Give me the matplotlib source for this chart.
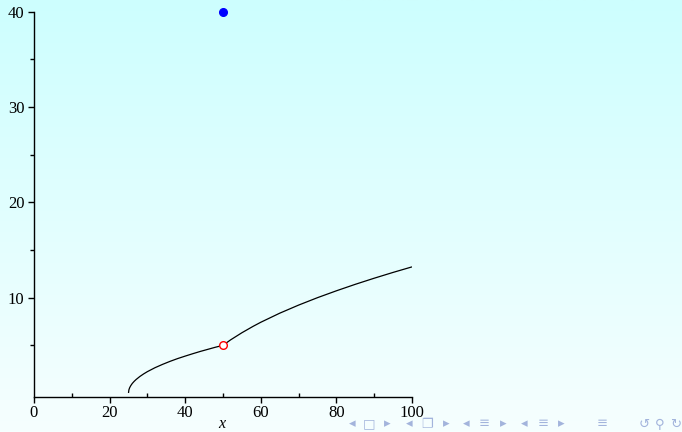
import numpy as np
import matplotlib
matplotlib.use("Agg")
import matplotlib.pyplot as plt
from matplotlib.colors import LinearSegmentedColormap

# data
x_left = [25, 25.1, 25.3, 25.6, 26, 26.5, 27, 28, 29, 30, 32, 34, 36, 38, 40, 42, 44, 46, 48, 50]
y_left = [0, 0.32, 0.55, 0.77, 1.0, 1.22, 1.41, 1.73, 2.0, 2.24, 2.65, 3.0, 3.32, 3.61, 3.87, 4.12, 4.36, 4.58, 4.80, 5.0]
x_right = [50, 52, 55, 58, 60, 65, 70, 75, 80, 85, 90, 95, 100]
y_right = [5.0, 5.57, 6.32, 7.0, 7.42, 8.37, 9.22, 10.0, 10.72, 11.40, 12.04, 12.65, 13.23]
open_pt = (50, 5)
filled_pt = (50, 40)
xticks = [0, 20, 40, 60, 80, 100]
xminor = [10, 30, 50, 70, 90]
yticks = [10, 20, 30, 40]
yminor = [5, 15, 25, 35]

W, H = 682, 432
fig = plt.figure(figsize=(W / 100, H / 100), dpi=100)

# background gradient
bg = fig.add_axes([0, 0, 1, 1])
cmap = LinearSegmentedColormap.from_list("bg", ["#cdfefe", "#f6ffff"])
grad = np.linspace(0, 1, 256).reshape(-1, 1)
bg.imshow(grad, aspect="auto", cmap=cmap, extent=[0, 1, 0, 1], origin="upper")
bg.set_axis_off()

left, right = 34 / W, 412 / W
bottom, top = (H - 396.7) / H, (H - 11.7) / H
ax = fig.add_axes([left, bottom, right - left, top - bottom])
ax.patch.set_alpha(0)
ax.set_xlim(0, 100)
ax.set_ylim(-0.39, 40)

ax.plot(x_left, y_left, color="black", lw=0.9, solid_capstyle="butt")
ax.plot(x_right, y_right, color="black", lw=0.9, solid_capstyle="butt")
ax.plot([open_pt[0]], [open_pt[1]], "o", ms=5.5, mfc="white", mec="red", mew=1.0, zorder=5)
ax.plot([filled_pt[0]], [filled_pt[1]], "o", ms=5.5, mfc="blue", mec="blue", clip_on=False, zorder=5)

for s in ["top", "right"]:
    ax.spines[s].set_visible(False)
for s in ["left", "bottom"]:
    ax.spines[s].set_linewidth(1.0)

serif = "Liberation Serif"
ax.set_xticks(xticks)
ax.set_xticks(xminor, minor=True)
ax.set_yticks(yticks)
ax.set_yticks(yminor, minor=True)
ax.set_xticklabels([str(v) for v in xticks], fontfamily=serif, fontsize=12)
ax.set_yticklabels([str(v) for v in yticks], fontfamily=serif, fontsize=12)
ax.tick_params(axis="x", which="major", direction="out", length=4, width=1, pad=2)
ax.tick_params(axis="x", which="minor", direction="in", length=3, width=1)
ax.tick_params(axis="y", which="major", direction="out", length=4, width=1, pad=3)
ax.tick_params(axis="y", which="minor", direction="out", length=3, width=1)

fig.text(222 / W, 1 - 424 / H, "x", fontfamily=serif, style="italic", fontsize=11.5,
         ha="center", va="center")

# beamer navigation symbols
nav_col = "#a3b4dc"
nav = [(352, "◂"), (369, "□"), (387, "▸"), (409, "◂"), (427, "❐"), (446, "▸"),
       (466, "◂"), (484, "≡"), (503, "▸"), (524, "◂"), (543, "≡"), (561, "▸"),
       (602, "≡"), (644, "↺"), (660, "⚲"), (676, "↻")]
for px, ch in nav:
    fig.text(px / W, 1 - 424 / H, ch, color=nav_col, fontsize=9.5, ha="center", va="center",
             fontfamily=["DejaVu Sans", "Noto Sans"])

fig.savefig("out.png", dpi=100)
